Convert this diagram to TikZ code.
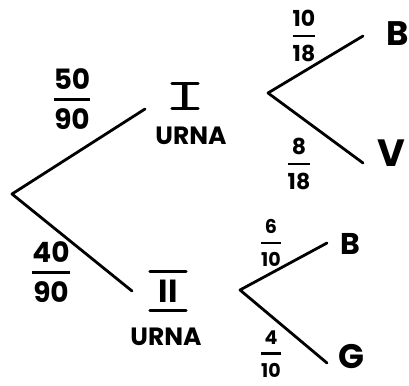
\documentclass[tikz,border=0pt]{standalone}
\usepackage{amsmath}
\usepackage{fontspec}
\setmainfont{Poppins}
% stacked fraction with a thick bar, digits in the text font
\newcommand{\frc}[2]{$\genfrac{}{}{2.6pt}{0}{\hbox{#1}}{\hbox{#2}}$}
\begin{document}
\begin{tikzpicture}[x=1pt,y=-1pt,
    branch/.style={line width=2.8pt,line cap=round,line join=round},
    prob/.style={inner sep=0pt,font=\fontsize{28}{30}\selectfont\bfseries},
    probsm/.style={inner sep=0pt,font=\fontsize{22}{24}\selectfont\bfseries},
    urna/.style={inner sep=0pt,font=\fontsize{25}{27}\selectfont\bfseries},
    roman/.style={inner sep=0pt,font=\fontsize{32}{34}\selectfont\bfseries},
    leaf/.style={inner sep=0pt,font=\fontsize{34}{36}\selectfont\bfseries},
    bar/.style={line width=2.8pt,line cap=round}]
\useasboundingbox (0,0) rectangle (409,385);

% first stage
\coordinate (root) at (12,194);
\coordinate (u1) at (145,109);
\coordinate (u2) at (132,291);
\draw[branch] (u1) -- (root) -- (u2);
\node[prob] (f1) at (72,99) {\frc{50}{90}};
\node[prob] (f2) at (51,272) {\frc{40}{90}};

% urn labels
\node[roman,minimum width=26pt,minimum height=25pt] (n1) at (185,96) {I};
\draw[bar] (n1.north west) -- (n1.north east);
\draw[bar] (n1.south west) -- (n1.south east);
\node[urna] (w1) at (191,136) {URNA};
\node[roman,minimum width=36pt,minimum height=38pt] (n2) at (168,291) {II};
\draw[bar] (n2.north west) -- (n2.north east);
\draw[bar] (n2.south west) -- (n2.south east);
\node[urna] (w2) at (166,337) {URNA};

% draws from urn I
\coordinate (v1) at (268,93);
\coordinate (e1) at (363,36);
\coordinate (e2) at (363,163);
\draw[branch] (e1) -- (v1) -- (e2);
\node[probsm] (f3) at (304,36) {\frc{10}{18}};
\node[probsm] (f4) at (299,164) {\frc{8}{18}};
\node[leaf] (b1) at (398,34) {B};
\node[leaf,font=\fontsize{38}{40}\selectfont\bfseries] (vv) at (391,153) {V};

% draws from urn II
\coordinate (v2) at (240,290);
\coordinate (e3) at (327,243);
\coordinate (e4) at (327,363);
\draw[branch] (e3) -- (v2) -- (e4);
\node[probsm,font=\fontsize{19}{21}\selectfont\bfseries] (f5) at (271,243) {\frc{6}{10}};
\node[probsm,font=\fontsize{19}{21}\selectfont\bfseries] (f6) at (271,354) {\frc{4}{10}};
\node[leaf,font=\fontsize{30}{32}\selectfont\bfseries] (b2) at (350,244) {B};
\node[leaf] (g) at (351,357) {G};
\end{tikzpicture}
\end{document}
